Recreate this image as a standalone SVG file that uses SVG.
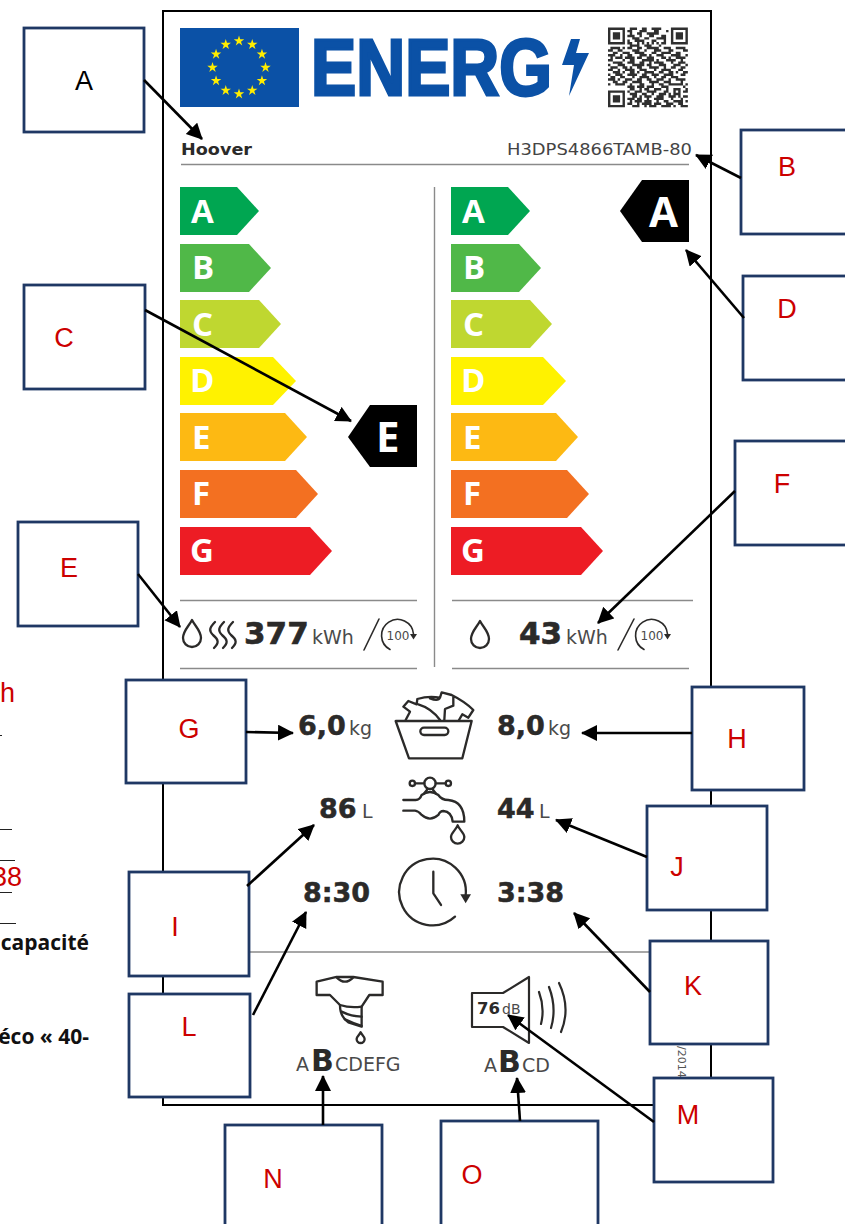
<svg xmlns="http://www.w3.org/2000/svg" width="845" height="1224" viewBox="0 0 845 1224">
<style>
.box{fill:#fff;stroke:#1f3864;stroke-width:2.8}
.lbl{font:27px "Liberation Sans",Arial,sans-serif;fill:#cc0000;text-anchor:middle}
.conn line{stroke:#000;stroke-width:2.6;marker-end:url(#ah)}
.rule{stroke:#8a8a8a;stroke-width:1.4;fill:none}
.ltr{font:bold 33px "Open Sans","Noto Sans",sans-serif;fill:#fff}
.val{font:bold 27px "DejaVu Sans",sans-serif;fill:#2b2a29;stroke:#2b2a29;stroke-width:.5}
.big{font:bold 31px "DejaVu Sans",sans-serif;fill:#2b2a29;stroke:#2b2a29;stroke-width:.6}
.unit{font:19px "DejaVu Sans",sans-serif;fill:#4a4a4a}
.ic{fill:none;stroke:#2b2a29;stroke-linejoin:round;stroke-linecap:round}
.side{font:bold 21px "Open Sans","Noto Sans",sans-serif;fill:#111;text-anchor:end}
.sl{stroke:#222;stroke-width:1.2}
</style>
<defs>
<marker id="ah" markerUnits="userSpaceOnUse" markerWidth="18" markerHeight="18" refX="15" refY="8" orient="auto"><path d="M0 0L16 8L0 16z" fill="#000"/></marker>
<polygon id="st" fill="#ffed00" points="0,-5.500 1.230,-1.700 5.240,-1.700 2,.65 3.230,4.450 0,2.100 -3.230,4.450 -2,.65 -5.240,-1.700 -1.230,-1.700"/>
<g id="cyc"><path class="ic" stroke-width="1.6" d="M-8 14.500A16 16 0 1 1 15.500 -1"/><polygon fill="#2b2a29" points="12,-1 19,-1 15.500,4.500"/><text y="4.500" text-anchor="middle" font-family="DejaVu Sans,sans-serif" font-size="12" fill="#4a4a4a">100</text></g>
<path id="drop" class="ic" stroke-width="2.300" d="M0 0C3 6 9 11 9 18A9 9 0 0 1 -9 18C-9 11 -3 6 0 0z"/>
</defs>
<rect width="845" height="1224" fill="#fff"/>

<g id="side-text">
<text x="0" y="702" font-family="Liberation Sans,sans-serif" font-size="27" fill="#cc0000">h</text>
<text x="-8" y="886" font-family="Liberation Sans,sans-serif" font-size="27" fill="#cc0000">38</text>
<text class="side" x="89" y="950">capacité</text>
<text class="side" x="89" y="1044">éco « 40-</text>
<path class="sl" d="M0 735.500H2M0 829.500H12M0 860.500H15M0 892.500H12M0 923.500H16"/>
</g>

<rect id="label-frame" x="163" y="11" width="548" height="1094" fill="#fff" stroke="#000" stroke-width="2"/>

<g id="logo">
<rect x="180" y="28" width="119" height="79" fill="#0b51a6"/>
<g transform="translate(239 67.500)">
<use href="#st" x="0" y="-26.500"/><use href="#st" x="13.250" y="-22.950"/><use href="#st" x="22.950" y="-13.250"/><use href="#st" x="26.500" y="0"/><use href="#st" x="22.950" y="13.250"/><use href="#st" x="13.250" y="22.950"/><use href="#st" x="0" y="26.500"/><use href="#st" x="-13.250" y="22.950"/><use href="#st" x="-22.950" y="13.250"/><use href="#st" x="-26.500" y="0"/><use href="#st" x="-22.950" y="-13.250"/><use href="#st" x="-13.250" y="-22.950"/>
</g>
<text x="311" y="95" font-family="Liberation Sans,sans-serif" font-weight="bold" font-size="79" fill="#0b51a6" stroke="#0b51a6" stroke-width="3" textLength="241" lengthAdjust="spacingAndGlyphs">ENERG</text>
<polygon fill="#0b51a6" points="571,39 580,39 576,53 589,53 569,96 574,65 562,65"/>
</g>

<g id="qr" transform="translate(608 27.500) scale(2.42)">
<path fill="#2f2f2f" fill-rule="evenodd" d="M0 0h7v7h-7zM1 1v5h5v-5zM2 2h3v3h-3zM26 0h7v7h-7zM27 1v5h5v-5zM28 2h3v3h-3zM0 26h7v7h-7zM1 27v5h5v-5zM2 28h3v3h-3z"/>
<path fill="none" stroke="#2f2f2f" stroke-width="1" d="M9 .5h3M14 .5h2M18 .5h4M8 1.500h2M13 1.500h3M19 1.500h2M24 1.500h1M9 2.500h1M12 2.500h2M16 2.500h5M8 3.500h3M13 3.500h1M17 3.500h2M22 3.500h2M10 4.500h3M15 4.500h2M20 4.500h4M8 5.500h1M11 5.500h4M18 5.500h2M23 5.500h1M8 6.500h2M12 6.500h1M14 6.500h1M16 6.500h1M18 6.500h1M20 6.500h1M22 6.500h2M9 7.500h4M15 7.500h3M21 7.500h1M1 8.500h4M6 8.500h1M8 8.500h2M12 8.500h2M16 8.500h5M23 8.500h3M28 8.500h4M0 9.500h2M4 9.500h2M10 9.500h3M15 9.500h1M19 9.500h3M25 9.500h2M31 9.500h2M2 10.500h2M6 10.500h3M11 10.500h4M18 10.500h2M22 10.500h4M28 10.500h2M0 11.500h3M5 11.500h1M8 11.500h2M13 11.500h3M17 11.500h1M20 11.500h3M26 11.500h4M32 11.500h1M1 12.500h1M3 12.500h3M7 12.500h4M12 12.500h2M16 12.500h3M22 12.500h2M25 12.500h1M28 12.500h4M0 13.500h2M6 13.500h1M9 13.500h2M14 13.500h5M20 13.500h1M24 13.500h4M30 13.500h1M2 14.500h4M8 14.500h3M13 14.500h2M17 14.500h1M19 14.500h4M26 14.500h1M29 14.500h3M0 15.500h1M4 15.500h3M10 15.500h5M16 15.500h2M21 15.500h3M27 15.500h3M32 15.500h1M1 16.500h3M6 16.500h2M9 16.500h1M12 16.500h2M17 16.500h4M23 16.500h1M26 16.500h2M30 16.500h2M0 17.500h2M4 17.500h1M7 17.500h4M13 17.500h3M19 17.500h1M22 17.500h4M29 17.500h2M2 18.500h3M6 18.500h1M9 18.500h2M12 18.500h1M15 18.500h4M21 18.500h2M25 18.500h2M28 18.500h1M31 18.500h2M0 19.500h1M3 19.500h3M8 19.500h4M14 19.500h2M18 19.500h3M23 19.500h4M30 19.500h2M1 20.500h2M5 20.500h2M10 20.500h1M13 20.500h4M19 20.500h1M22 20.500h2M26 20.500h3M0 21.500h3M4 21.500h1M7 21.500h3M12 21.500h2M16 21.500h2M20 21.500h3M25 21.500h1M28 21.500h4M2 22.500h2M6 22.500h2M10 22.500h4M17 22.500h4M23 22.500h3M30 22.500h1M0 23.500h1M3 23.500h4M9 23.500h1M13 23.500h2M18 23.500h1M21 23.500h2M25 23.500h6M32 23.500h1M8 24.500h3M12 24.500h3M16 24.500h3M22 24.500h3M31 24.500h1M9 25.500h2M13 25.500h1M15 25.500h2M19 25.500h3M24 25.500h1M27 25.500h3M32 25.500h1M8 26.500h1M11 26.500h3M16 26.500h4M23 26.500h2M27 26.500h1M29 26.500h1M31 26.500h2M9 27.500h3M14 27.500h2M18 27.500h1M21 27.500h3M25 27.500h1M27 27.500h3M10 28.500h2M13 28.500h1M15 28.500h3M20 28.500h3M25 28.500h3M29 28.500h1M31 28.500h2M8 29.500h3M12 29.500h2M16 29.500h1M19 29.500h4M26 29.500h1M30 29.500h1M9 30.500h1M11 30.500h3M15 30.500h3M20 30.500h1M23 30.500h2M27 30.500h4M32 30.500h1M8 31.500h2M12 31.500h1M14 31.500h4M19 31.500h3M24 31.500h3M29 31.500h2M10 32.500h3M15 32.500h1M17 32.500h3M22 32.500h4M27 32.500h1M30 32.500h3"/>
</g>

<g id="header">
<text x="181" y="155" font-family="DejaVu Sans,sans-serif" font-weight="bold" font-size="15.500" fill="#2b2a29" textLength="71" lengthAdjust="spacingAndGlyphs">Hoover</text>
<text x="507" y="155" font-family="DejaVu Sans,sans-serif" font-size="16" fill="#444" textLength="185" lengthAdjust="spacingAndGlyphs">H3DPS4866TAMB-80</text>
<path class="rule" d="M181 164.500H689"/>
</g>

<g id="scale-left">
<polygon fill="#00a651" points="180,187 237,187 259,211 237,235 180,235"/>
<polygon fill="#50b848" points="180,244 249,244 271,268 249,292 180,292"/>
<polygon fill="#bfd730" points="180,300 259,300 281,324 259,348 180,348"/>
<polygon fill="#fff200" points="180,357 273,357 296,381 273,405 180,405"/>
<polygon fill="#fdb913" points="180,413 285,413 307,437 285,461 180,461"/>
<polygon fill="#f37021" points="180,470 296,470 318,494 296,518 180,518"/>
<polygon fill="#ed1c24" points="180,527 310,527 332,551 310,575 180,575"/>
<text class="ltr" x="191" y="223">A</text><text class="ltr" x="192" y="279">B</text><text class="ltr" x="192" y="336">C</text><text class="ltr" x="190" y="392">D</text><text class="ltr" x="192" y="449">E</text><text class="ltr" x="192" y="505">F</text><text class="ltr" x="190" y="562">G</text>
</g>
<g id="scale-right">
<polygon fill="#00a651" points="451,187 508,187 530,211 508,235 451,235"/>
<polygon fill="#50b848" points="451,244 519,244 541,268 519,292 451,292"/>
<polygon fill="#bfd730" points="451,300 530,300 552,324 530,348 451,348"/>
<polygon fill="#fff200" points="451,357 543,357 566,381 543,405 451,405"/>
<polygon fill="#fdb913" points="451,413 556,413 578,437 556,461 451,461"/>
<polygon fill="#f37021" points="451,470 567,470 589,494 567,518 451,518"/>
<polygon fill="#ed1c24" points="451,527 581,527 603,551 581,575 451,575"/>
<text class="ltr" x="462" y="223">A</text><text class="ltr" x="463" y="279">B</text><text class="ltr" x="463" y="336">C</text><text class="ltr" x="461" y="392">D</text><text class="ltr" x="463" y="449">E</text><text class="ltr" x="463" y="505">F</text><text class="ltr" x="461" y="562">G</text>
</g>
<g id="rating-left"><polygon points="348,437 370,405 417,405 417,467 370,467"/><text class="ltr" style="font-size:42px" x="376" y="452">E</text></g>
<g id="rating-right"><polygon points="620,211 642,180 689,180 689,242 642,242"/><text class="ltr" style="font-size:42px" x="649" y="227">A</text></g>

<path id="divider" class="rule" d="M434.500 187V667"/>
<path id="rules" class="rule" d="M180 600.500H417M180 668.500H417M452 600.500H693M452 668.500H689M250 952H650"/>

<g id="energy-left">
<use href="#drop" x="192" y="620"/>
<path class="ic" stroke-width="2.300" d="M215 622C209 628 209 631 213 635C219 640 219 643 214 648M224 622C218 628 218 631 222 635C228 640 228 643 223 648M233 622C227 628 227 631 231 635C237 640 237 643 232 648"/>
<text class="big" x="244" y="644">377</text><text class="unit" x="312" y="644">kWh</text>
<path class="ic" stroke-width="1.600" d="M364 650L379 619"/>
<use href="#cyc" x="398" y="635"/>
</g>
<g id="energy-right">
<use href="#drop" x="480" y="621"/>
<text class="big" x="519" y="644">43</text><text class="unit" x="566" y="644">kWh</text>
<path class="ic" stroke-width="1.600" d="M618 650L634 619"/>
<use href="#cyc" x="652" y="635"/>
</g>

<g id="values">
<text class="val" x="298" y="735">6,0</text><text class="unit" x="349" y="735">kg</text>
<text class="val" x="497" y="735">8,0</text><text class="unit" x="548" y="735">kg</text>
<text class="val" x="319" y="818">86</text><text class="unit" x="362" y="818">L</text>
<text class="val" x="497" y="818">44</text><text class="unit" x="539" y="818">L</text>
<text class="val" x="303" y="902">8:30</text>
<text class="val" x="497" y="902">3:38</text>
</g>

<g id="icon-basket" transform="translate(385 685) scale(.3333)" class="ic" stroke-width="7">
<path d="M32 108H260L232 220H72z"/><rect x="106" y="128" width="84" height="22" rx="11"/>
<path d="M62 105L75 80L55 65L70 48L95 58L97 42Q130 32 165 38L170 22L200 30Q240 50 265 75L250 98L232 88L222 105M100 58Q140 70 165 105M178 105L180 72L205 62L205 35M165 38Q160 50 135 40"/>
</g>
<g id="icon-tap" transform="translate(385 685) scale(.3333)" class="ic" stroke-width="7">
<circle cx="135" cy="295" r="17"/><circle cx="82" cy="295" r="8"/><circle cx="190" cy="295" r="8"/><path d="M90 295H118M152 295H182M128 312L118 325M142 312L152 325"/>
<path d="M55 345H92Q105 345 110 330Q135 312 160 330Q170 345 190 345Q238 350 238 410H203Q200 380 175 378Q165 378 160 390Q135 412 110 390Q100 378 90 377H55"/>
<path d="M218 421C224 436 238 444 238 456A20 20 0 0 1 198 456C198 444 212 436 218 421z"/>
</g>
<g id="icon-clock" transform="translate(385 685) scale(.3333)" class="ic" stroke-width="7">
<path d="M210 695A100 100 0 1 1 242 632M145 560V625L168 660"/>
<polygon points="226,628 258,628 242,655" fill="#2b2a29" stroke="none"/>
</g>

<g id="icon-shirt">
<g transform="translate(0 860) scale(.3333)" class="ic" stroke-width="7">
<path d="M950 365L1010 351H1060L1148 365V405H1108L1085 440V500L1045 487Q1020 470 1020 435L990 405H950z"/>
<path d="M1010 352Q1035 378 1060 352M1020 435Q1050 445 1085 440M1025 455Q1055 470 1085 470M1035 478Q1060 490 1085 498"/>
<path d="M1082 517C1086 526 1094 530 1094 537A12 12 0 0 1 1070 537C1070 530 1078 526 1082 517z"/>
</g>
<text font-family="DejaVu Sans,sans-serif" font-size="19" fill="#4a4a4a" x="296" y="1071">A</text>
<text font-family="DejaVu Sans,sans-serif" font-weight="bold" font-size="30" fill="#2b2a29" x="311" y="1071">B</text>
<text font-family="DejaVu Sans,sans-serif" font-size="19" fill="#4a4a4a" x="335" y="1071">CDEFG</text>
</g>
<g id="icon-noise">
<path class="ic" stroke-width="2.200" d="M472 993H503L529 977V1043L503 1027H472z"/>
<path class="ic" stroke-width="2.200" d="M539 992Q545 1008 541 1024M549 987Q557 1008 551 1028M559 983Q571 1008 561 1032"/>
<text font-family="DejaVu Sans,sans-serif" font-weight="bold" font-size="16.500" fill="#2b2a29" x="477" y="1014">76</text>
<text font-family="DejaVu Sans,sans-serif" font-size="14" fill="#4a4a4a" x="502" y="1014">dB</text>
<text font-family="DejaVu Sans,sans-serif" font-size="19" fill="#4a4a4a" x="484" y="1072">A</text>
<text font-family="DejaVu Sans,sans-serif" font-weight="bold" font-size="30" fill="#2b2a29" x="498" y="1072">B</text>
<text font-family="DejaVu Sans,sans-serif" font-size="19" fill="#4a4a4a" x="522" y="1072">CD</text>
</g>
<text id="reg" transform="translate(678 1046) rotate(90)" font-family="DejaVu Sans,sans-serif" font-size="11" fill="#555">/2014</text>

<g id="node-A"><rect class="box" x="24" y="28" width="120" height="104"/><text class="lbl" style="fill:#000" x="84" y="90">A</text></g>
<g id="node-B"><rect class="box" x="741" y="130" width="110" height="104"/><text class="lbl" x="787" y="176">B</text></g>
<g id="node-C"><rect class="box" x="24" y="285" width="121" height="104"/><text class="lbl" x="64" y="347">C</text></g>
<g id="node-D"><rect class="box" x="743" y="276" width="108" height="104"/><text class="lbl" x="787" y="318">D</text></g>
<g id="node-E"><rect class="box" x="18" y="522" width="120" height="104"/><text class="lbl" x="69" y="577">E</text></g>
<g id="node-F"><rect class="box" x="735" y="441" width="116" height="104"/><text class="lbl" x="782" y="493">F</text></g>
<g id="node-G"><rect class="box" x="126" y="680" width="120" height="103"/><text class="lbl" x="189" y="738">G</text></g>
<g id="node-H"><rect class="box" x="692" y="687" width="112" height="103"/><text class="lbl" x="737" y="748">H</text></g>
<g id="node-I"><rect class="box" x="129" y="872" width="120" height="104"/><text class="lbl" x="175" y="936">I</text></g>
<g id="node-J"><rect class="box" x="647" y="806" width="120" height="104"/><text class="lbl" x="677" y="876">J</text></g>
<g id="node-K"><rect class="box" x="650" y="941" width="118" height="103"/><text class="lbl" x="693" y="995">K</text></g>
<g id="node-L"><rect class="box" x="129" y="994" width="121" height="103"/><text class="lbl" x="189" y="1036">L</text></g>
<g id="node-M"><rect class="box" x="654" y="1078" width="119" height="104"/><text class="lbl" x="688" y="1124">M</text></g>
<g id="node-N"><rect class="box" x="225" y="1125" width="157" height="105"/><text class="lbl" x="273" y="1188">N</text></g>
<g id="node-O"><rect class="box" x="441" y="1121" width="157" height="109"/><text class="lbl" x="472" y="1184">O</text></g>

<g id="connectors" class="conn">
<line x1="144" y1="80" x2="202" y2="139"/>
<line x1="741" y1="178" x2="696" y2="155"/>
<line x1="145" y1="310" x2="351" y2="421"/>
<line x1="744" y1="318" x2="686" y2="250"/>
<line x1="138" y1="574" x2="180" y2="627"/>
<line x1="735" y1="491" x2="598" y2="623"/>
<line x1="246" y1="732" x2="293" y2="733"/>
<line x1="692" y1="733" x2="582" y2="733"/>
<line x1="247" y1="886" x2="314" y2="825"/>
<line x1="647" y1="857" x2="556" y2="820"/>
<line x1="650" y1="992" x2="574" y2="913"/>
<line x1="253" y1="1015" x2="306" y2="912"/>
<line x1="654" y1="1122" x2="508" y2="1015"/>
<line x1="323" y1="1125" x2="323" y2="1076"/>
<line x1="520" y1="1121" x2="517" y2="1078"/>
</g>
</svg>
